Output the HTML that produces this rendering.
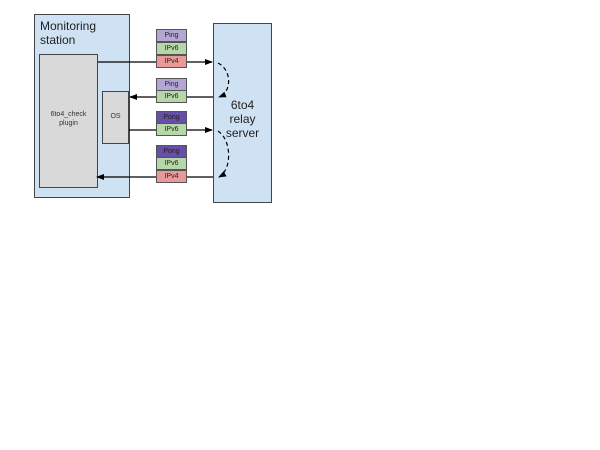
<!DOCTYPE html>
<html><head><style>
body{margin:0;width:600px;height:450px;background:#fff;position:relative;font-family:"Liberation Sans",sans-serif;overflow:hidden}
.b{position:absolute;box-sizing:border-box;border:1px solid #444}
.c{position:absolute;box-sizing:border-box;border:1px solid #555;left:156px;width:31px;height:13px;font-size:7px;text-align:center;line-height:11px;color:#222}
.ping{background:#b4a7d6}.pong{background:#674ea7}.v6{background:#b6d7a8}.v4{background:#ea9999}
</style></head><body>
<div class="b" style="left:34px;top:14px;width:96px;height:184px;background:#cfe2f3"></div>
<div style="position:absolute;left:40px;top:19px;font-size:12px;line-height:14px;color:#222">Monitoring<br>station</div>
<div class="b" style="left:39px;top:54px;width:59px;height:134px;background:#d9d9d9"></div>
<div style="position:absolute;left:39px;top:110px;width:59px;font-size:7px;text-align:center;line-height:9px;color:#333">6to4_check<br>plugin</div>
<div class="b" style="left:102px;top:91px;width:27px;height:53px;background:#d9d9d9"></div>
<div style="position:absolute;left:102px;top:113px;width:27px;font-size:7px;text-align:center;color:#333">OS</div>
<div class="b" style="left:213px;top:23px;width:59px;height:180px;background:#cfe2f3"></div>
<div style="position:absolute;left:213px;top:98px;width:59px;font-size:12px;text-align:center;line-height:14px;color:#222">6to4<br>relay<br>server</div>
<svg width="600" height="450" style="position:absolute;left:0;top:0">
<defs><marker id="a" markerWidth="8" markerHeight="6" refX="7" refY="3" orient="auto" markerUnits="userSpaceOnUse"><path d="M0,0L8,3L0,6z" fill="#000"/></marker></defs>
<g stroke="#000" stroke-width="1.2" fill="none">
<path d="M98,62H212" marker-end="url(#a)"/>
<path d="M213,97H130" marker-end="url(#a)"/>
<path d="M129,130H212" marker-end="url(#a)"/>
<path d="M213,177H97" marker-end="url(#a)"/>
<path d="M218,63C232,70 232,92 219,97" stroke-dasharray="4,3" marker-end="url(#a)"/>
<path d="M218,131C232,140 232,170 219,177" stroke-dasharray="4,3" marker-end="url(#a)"/>
</g></svg>
<div class="c ping" style="top:29px">Ping</div>
<div class="c v6" style="top:42px">IPv6</div>
<div class="c v4" style="top:55px">IPv4</div>
<div class="c ping" style="top:78px">Ping</div>
<div class="c v6" style="top:90px">IPv6</div>
<div class="c pong" style="top:111px">Pong</div>
<div class="c v6" style="top:123px">IPv6</div>
<div class="c pong" style="top:145px">Pong</div>
<div class="c v6" style="top:157px">IPv6</div>
<div class="c v4" style="top:170px">IPv4</div>
</body></html>
